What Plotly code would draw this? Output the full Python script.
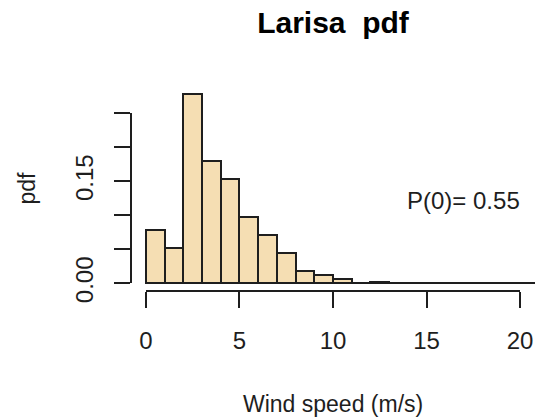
import plotly.graph_objects as go

# ---- data ----
bin_left = [0, 1, 2, 3, 4, 5, 6, 7, 8, 9, 10, 11, 12, 13, 14, 15, 16, 17, 18, 19, 20, 21]
density = [0.079, 0.052, 0.279, 0.180, 0.153, 0.0975, 0.071, 0.044, 0.0176, 0.0118, 0.0059,
           0.0, 0.002, 0.0, 0.0, 0.0, 0.0, 0.0, 0.0, 0.0, 0.0, 0.0]
bin_width = 1

x_tickvals = [0, 5, 10, 15, 20]
x_ticktext = ["0", "5", "10", "15", "20"]
y_tickvals = [0.0, 0.05, 0.10, 0.15, 0.20, 0.25]
y_ticktext = ["0.00", "", "", "0.15", "", ""]

title_text = "<b>Larisa\u00a0 pdf</b>"
x_label = "Wind speed (m/s)"
y_label = "pdf"
note_text = "P(0)= 0.55"
note_x, note_y = 17, 0.1225

# ---- R-like ranges (4% extension) ----
xlim = [0, 20]
ext = 0.04 * (xlim[1] - xlim[0])
x_range = [xlim[0] - ext, xlim[1] + ext]
ymax = max(density)
y_range = [-0.04 * ymax, 1.04 * ymax]

def frac(v, r):
    return (v - r[0]) / (r[1] - r[0])

FONT = "Liberation Sans, Arial, sans-serif"
INK = "#1e1e1e"
W, H = 535, 419
ML, MR, MT, MB = 131, 0, 86, 128

centers = [l + bin_width / 2 for l in bin_left]

fig = go.Figure()
fig.add_trace(go.Bar(
    x=centers, y=density, width=bin_width,
    marker=dict(color="#F5DEB3", line=dict(color=INK, width=2)),
    hoverinfo="skip", showlegend=False,
))
# dummy trace so the R-style detached axes are drawn
fig.add_trace(go.Scatter(x=[None], y=[None], xaxis="x2", yaxis="y2",
                         showlegend=False, hoverinfo="skip"))

fig.update_layout(
    width=W, height=H,
    margin=dict(l=ML, r=MR, t=MT, b=MB, pad=0, autoexpand=False),
    paper_bgcolor="white", plot_bgcolor="rgba(0,0,0,0)",
    font=dict(family=FONT, color=INK, size=24),
    bargap=0,
    xaxis=dict(range=x_range, domain=[0, 1], visible=False, fixedrange=True, automargin=False),
    yaxis=dict(range=y_range, domain=[0, 1], visible=False, fixedrange=True, automargin=False),
    xaxis2=dict(
        range=xlim, domain=[frac(xlim[0], x_range), frac(xlim[1], x_range)],
        anchor="free", position=0, automargin=False,
        tickvals=x_tickvals, ticktext=x_ticktext,
        ticks="outside", ticklen=16, tickwidth=2, tickcolor=INK,
        ticklabelstandoff=12,
        showline=True, linewidth=2, linecolor=INK,
        showgrid=False, zeroline=False,
        tickfont=dict(size=24, color=INK, family=FONT),
        fixedrange=True,
    ),
    yaxis2=dict(
        range=[y_tickvals[0], y_tickvals[-1]],
        domain=[frac(y_tickvals[0], y_range), frac(y_tickvals[-1], y_range)],
        anchor="free", position=0, automargin=False,
        tickvals=y_tickvals, ticktext=y_ticktext, tickangle=-90,
        ticks="outside", ticklen=16, tickwidth=2, tickcolor=INK,
        ticklabelstandoff=11,
        showline=True, linewidth=2, linecolor=INK,
        showgrid=False, zeroline=False,
        tickfont=dict(size=24, color=INK, family=FONT),
        fixedrange=True,
    ),
    title=dict(text=title_text,
               x=(ML + (W - ML - MR) / 2) / W,
               xanchor="center", y=1 - 22 / H, yanchor="middle",
               font=dict(size=30, color="black", family=FONT)),
    annotations=[
        dict(text=x_label, xref="paper", yref="paper", x=0.5, y=0,
             xanchor="center", yanchor="middle", yshift=-113, showarrow=False,
             font=dict(size=23, color=INK, family=FONT)),
        dict(text=y_label, xref="paper", yref="paper", x=0, y=0.5,
             xanchor="center", yanchor="middle", xshift=-105, textangle=-90,
             showarrow=False, font=dict(size=23, color=INK, family=FONT)),
        dict(text=note_text, xref="x", yref="y", x=note_x, y=note_y,
             xanchor="center", yanchor="middle", showarrow=False,
             font=dict(size=24, color=INK, family=FONT)),
    ],
)

fig.write_html("out.html", config=dict(displayModeBar=False))
